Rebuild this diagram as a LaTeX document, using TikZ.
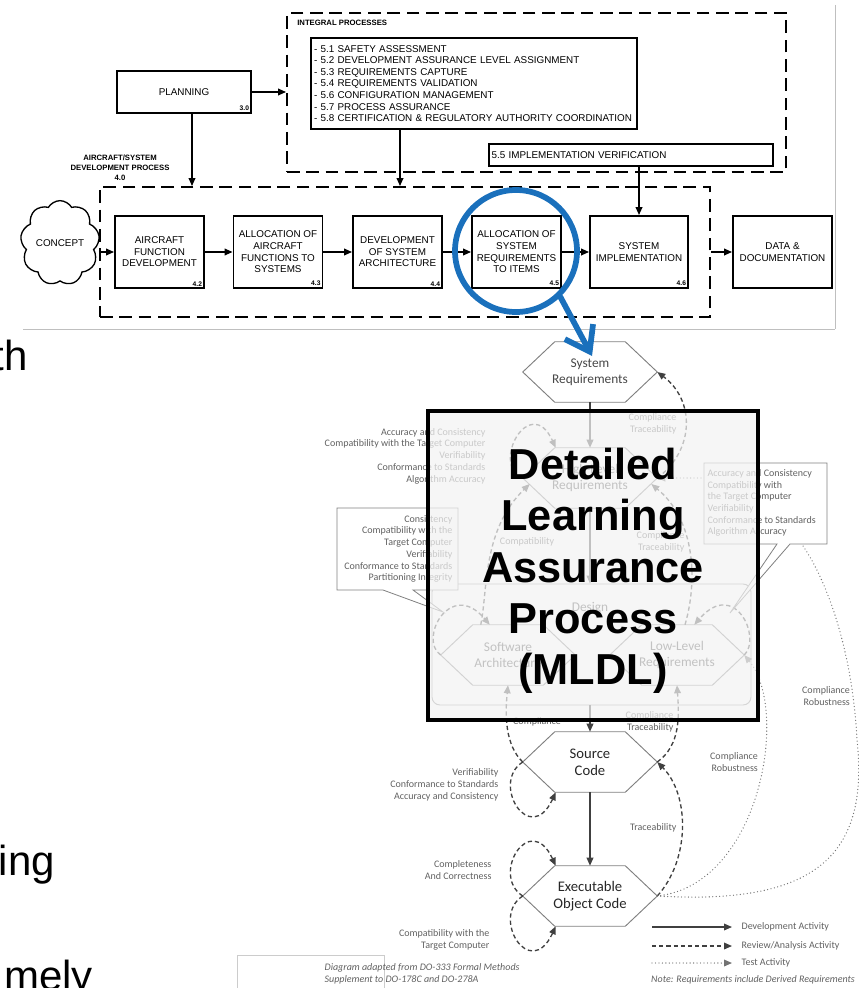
\documentclass[tikz,border=0pt]{standalone}
\usepackage{fontspec}
\setmainfont{Liberation Sans}
\newfontfamily\calfont{Carlito}
\usetikzlibrary{arrows.meta,shapes.symbols,calc}
\definecolor{magblue}{RGB}{26,112,188}
\newcommand\arpfont{\fontsize{7.4}{8.7}\selectfont}
\newcommand\arpsmall{\fontsize{5.8}{7.4}\selectfont\bfseries}
\tikzset{
  arpbox/.style={draw, line width=1.4pt, align=center, font=\arpfont, inner sep=1pt,
    minimum width=66.75pt, minimum height=54pt},
  arpdash/.style={draw, line width=1.4pt, dash pattern=on 9.5pt off 5pt, inner sep=0pt},
  arparrow/.style={line width=1.2pt, -{Triangle[length=6pt,width=5pt]}},
  arpnum/.style={font=\fontsize{5}{6}\selectfont\bfseries, anchor=south east, inner sep=2pt},
  hexa/.style={rectangle, minimum width=100.5pt, minimum height=45pt, inner sep=0pt,
    align=center, text=black!72, font=\calfont\fontsize{10}{12}\selectfont},
  hexbold/.style={text=black!85, font=\calfont\fontsize{11}{12.8}\selectfont},
  hexline/.style={draw=black!50, line width=0.7pt},
  devarrow/.style={draw=black!75, line width=1pt, -{Triangle[length=6pt,width=5pt]}},
  revarrow/.style={devarrow, dash pattern=on 3.2pt off 2.2pt},
  testarrow/.style={draw=black!55, line width=1pt, line cap=round, dash pattern=on 0pt off 2.6pt,
    -{Triangle[length=6pt,width=5pt]}},
  lbl/.style={font=\calfont\fontsize{7.5}{8.8}\selectfont, text=black!62, inner sep=1pt},
  callout/.style={draw=black!50, fill=white, line width=0.6pt},
}
\begin{document}
\begin{tikzpicture}[x=0.75pt,y=-0.75pt]
\useasboundingbox (0,0) rectangle (859,988);

% pasted ARP4754A figure
\draw[black!25, line width=0.6pt] (23,329) -- (835,329) (835,5) -- (835,329);
\node[arpdash, minimum width=374.25pt, minimum height=119.25pt] (integral) at (536.5,92.5) {};
\node[arpdash, minimum width=457.5pt, minimum height=97.5pt] (devproc) at (405,252) {};
\node[anchor=west, font=\arpsmall, inner sep=0pt] (intlbl) at (297,23) {INTEGRAL PROCESSES};
\node[align=center, font=\arpsmall] (devlbl) at (120,168) {AIRCRAFT/SYSTEM\\DEVELOPMENT PROCESS\\4.0};

\node[arpbox, minimum width=100.5pt, minimum height=31.5pt] (planning) at (184,92) {PLANNING};
\node[arpnum] at (planning.south east) {3.0};
\node[draw, line width=1.4pt, font=\arpfont, align=left, text width=240pt, inner sep=2pt,
  minimum height=68.25pt] (intlist) at (474,83.5)
  {- 5.1 SAFETY ASSESSMENT\\
   - 5.2 DEVELOPMENT ASSURANCE LEVEL ASSIGNMENT\\
   - 5.3 REQUIREMENTS CAPTURE\\
   - 5.4 REQUIREMENTS VALIDATION\\
   - 5.6 CONFIGURATION MANAGEMENT\\
   - 5.7 PROCESS ASSURANCE\\
   - 5.8 CERTIFICATION \& REGULATORY AUTHORITY COORDINATION};
\node[draw, line width=1.4pt, font=\arpfont, anchor=west, text width=209pt, inner sep=2pt,
  minimum height=16.5pt] (implver) at (488,155) {5.5 IMPLEMENTATION VERIFICATION};

\node[cloud, draw, line width=1pt, cloud puffs=9, cloud puff arc=120, aspect=0.9,
  minimum width=49.5pt, minimum height=56pt, font=\arpfont, inner sep=0pt] (concept) at (60,243) {CONCEPT};
\node[arpbox] (afd) at (159.5,252) {AIRCRAFT\\FUNCTION\\DEVELOPMENT};
\node[arpbox] (aafs) at (278,252) {ALLOCATION OF\\AIRCRAFT\\FUNCTIONS TO\\SYSTEMS};
\node[arpbox] (dsa) at (397.5,252) {DEVELOPMENT\\OF SYSTEM\\ARCHITECTURE};
\node[arpbox] (asri) at (516.5,252) {ALLOCATION OF\\SYSTEM\\REQUIREMENTS\\TO ITEMS};
\node[arpbox, minimum width=73.5pt] (sysimpl) at (639,252) {SYSTEM\\IMPLEMENTATION};
\node[arpbox, minimum width=74.25pt] (datadoc) at (782.5,252) {DATA \&\\DOCUMENTATION};
\node[arpnum] at (afd.south east) {4.2};
\node[arpnum] at (aafs.south east) {4.3};
\node[arpnum] at (dsa.south east) {4.4};
\node[arpnum] at (asri.south east) {4.5};
\node[arpnum] at (sysimpl.south east) {4.6};

\draw[arparrow] (planning.east) -- (planning.east -| integral.west);
\draw[arparrow] ([xshift=6pt]planning.south) -- ([xshift=6pt]planning.south |- devproc.north);
\draw[arparrow] ([xshift=-55.5pt]intlist.south) -- ([xshift=-55.5pt]intlist.south |- devproc.north);
\draw[arparrow] (implver.south -| sysimpl) -- (sysimpl.north);
\draw[arparrow] (concept.east |- afd) -- (afd);
\draw[arparrow] (afd) -- (aafs);
\draw[arparrow] (aafs) -- (dsa);
\draw[arparrow] (dsa) -- (asri);
\draw[arparrow] (asri) -- (sysimpl);
\draw[arparrow] (devproc.east |- datadoc) -- (datadoc);

% DO-178C life cycle
\node[draw=black!45, line width=0.7pt, rounded corners=6pt, minimum width=239.25pt,
  minimum height=90.75pt] (design) at (591.5,644.5) {};
\node[hexa] (designlbl) at (590,608) {Design};
\node[hexa] (sysreq) at (590,372) {System\\Requirements};
\node[hexa] (hlr) at (590,478) {High-Level\\Requirements};
\node[hexa] (sa) at (508,655) {Software\\Architecture};
\node[hexa] (llr) at (677,655) {Low-Level\\Requirements};
\node[hexa, hexbold] (src) at (590,762) {Source\\Code};
\node[hexa, hexbold] (eoc) at (590,896) {Executable\\Object Code};
\foreach \n in {sysreq,hlr,sa,llr,src,eoc}
  \draw[hexline] (\n.west) -- ($(\n.north west)+(32,0)$) -- ($(\n.north east)+(-32,0)$)
    -- (\n.east) -- ($(\n.south east)+(-32,0)$) -- ($(\n.south west)+(32,0)$) -- cycle;

\draw[devarrow] (sysreq) -- (hlr);
\draw[devarrow] (hlr.south) -- (hlr.south |- design.north);
\draw[devarrow] (design.south -| src) -- (src.north);
\draw[devarrow] (src) -- (eoc);

\draw[revarrow] (hlr.east) .. controls (695,450) and (695,400) .. (sysreq.east);
\draw[revarrow] (hlr.west) .. controls (490,465) and (530,392) .. ($(hlr.north west)+(33,0)$);
\draw[revarrow] ($(sa.north west)+(40,0)$) .. controls (488,590) and (482,530) .. ($(hlr.west)+(7,6)$);
\draw[revarrow] ($(llr.north)+(8,0)$) .. controls (698,580) and (695,520) .. ($(hlr.east)+(-6,6)$);
\draw[revarrow] (sa.west) .. controls (418,640) and (450,578) .. ($(sa.north west)+(49,0)$);
\draw[revarrow] (llr.east) .. controls (762,638) and (735,578) .. ($(llr.north east)+(-50,0)$);
\draw[revarrow] (src.east) .. controls (681,745) and (679,715) .. (llr.south);
\draw[revarrow] (src.west) .. controls (505,745) and (505,715) .. (sa.south);
\draw[revarrow] (src.west) .. controls (490,783) and (530,848) .. ($(src.south west)+(33,0)$);
\draw[revarrow] (eoc.west) .. controls (490,875) and (530,810) .. ($(eoc.north west)+(33,0)$);
\draw[revarrow] (eoc.west) .. controls (490,917) and (530,982) .. ($(eoc.south west)+(33,0)$);
\draw[revarrow] (eoc.east) .. controls (690,860) and (690,795) .. (src.east);

\draw[testarrow] (eoc.east) .. controls (760,885) and (790,710) .. (llr.east);
\draw[testarrow] (eoc.east) .. controls (810,905) and (870,860) .. (857,740)
  .. controls (852,640) and (820,560) .. (790,530) .. controls (760,495) and (740,478) .. (705,478)
  -- (hlr.east);

\node[lbl, align=right, anchor=east] (l1) at (678,424) {Compliance\\Traceability};
\node[lbl, align=right, anchor=east] (l2) at (487,456) {Accuracy and Consistency\\Compatibility with the Target Computer\\Verifiability\\Conformance to Standards\\Algorithm Accuracy};
\node[lbl] (l3) at (527,542) {Compatibility};
\node[lbl, align=right, anchor=east] (l4) at (686,542) {Compliance\\Traceability};
\node[lbl, align=right, anchor=east] (l5) at (675,722) {Compliance\\Traceability};
\node[lbl] (l6) at (537,722) {Compliance};
\node[lbl, align=right, anchor=east] (l7) at (500,785) {Verifiability\\Conformance to Standards\\Accuracy and Consistency};
\node[lbl, align=right, anchor=east] (l8) at (678,828) {Traceability};
\node[lbl, align=right, anchor=east] (l9) at (493,870) {Completeness\\And Correctness};
\node[lbl, align=right, anchor=east] (l10) at (491,940) {Compatibility with the\\Target Computer};
\node[lbl, align=right] (l11) at (826,696) {Compliance\\Robustness};
\node[lbl, align=right] (l12) at (734,762) {Compliance\\Robustness};

\draw[callout] (337,508) -- (458,508) -- (458,590) -- (413,590) -- (443,612) -- (383,590) -- (337,590) -- cycle;
\node[lbl, align=right, anchor=east] (leftnote) at (454,549) {Consistency\\Compatibility with the\\Target Computer\\Verifiability\\Conformance to Standards\\Partitioning Integrity};
\draw[callout] (704,463) -- (827,463) -- (827,544) -- (790,544) -- (730,613) -- (777,544) -- (704,544) -- cycle;
\node[lbl, align=left, anchor=west] (rightnote) at (706,503) {Accuracy and Consistency\\Compatibility with\\the Target Computer\\Verifiability\\Conformance to Standards\\Algorithm Accuracy};

% legend
\coordinate (lgdevs) at (652,927);
\coordinate (lgrevs) at (652,946);
\coordinate (lgtests) at (652,963);
\node[lbl, anchor=west, inner xsep=7pt] (lgdev) at (732,927) {Development Activity};
\node[lbl, anchor=west, inner xsep=7pt] (lgrev) at (732,946) {Review/Analysis Activity};
\node[lbl, anchor=west, inner xsep=7pt] (lgtest) at (732,963) {Test Activity};
\draw[devarrow] (lgdevs) -- (lgdev.west);
\draw[revarrow] (lgrevs) -- (lgrev.west);
\draw[testarrow] (lgtests) -- (lgtest.west);
\node[lbl, font=\calfont\itshape\fontsize{7.5}{8.8}\selectfont] (note) at (753,980) {Note: Requirements include Derived Requirements};
\draw[black!20, line width=0.6pt] (237,990) -- (237,955) -- (384,955) -- (384,990);
\node[lbl, align=left, anchor=west, font=\calfont\itshape\fontsize{7.5}{8.8}\selectfont] (source) at (323,974)
  {Diagram adapted from DO-333 Formal Methods\\Supplement to DO-178C and DO-278A};

% overlay box
\node[draw, line width=3pt, fill=black!5, fill opacity=0.72, minimum width=247.5pt,
  minimum height=231.75pt, inner sep=0pt] (mldlbox) at (593,565.5) {};
\node[align=center, font=\fontsize{32.5}{38.5}\selectfont\bfseries] (mldl) at (593,571)
  {Detailed\\Learning\\Assurance\\Process\\(MLDL)};

% magnifier
\node[circle, draw=magblue, line width=4.3pt, minimum size=91.5pt, inner sep=0pt] (lens) at (516,251) {};
\coordinate (magtip) at (592,356);
\draw[magblue, line width=4.3pt, line cap=round, -{Straight Barb[length=17pt,width=24pt]}] (lens.-46) -- (magtip);

% slide text behind
\node[anchor=base east, font=\fontsize{31.5}{36}\selectfont, inner sep=0pt] (frag1) at (28,370) {th};
\node[anchor=base east, font=\fontsize{31.5}{36}\selectfont, inner sep=0pt] (frag2) at (55,875) {ing};
\node[anchor=base east, font=\fontsize{31.5}{36}\selectfont, inner sep=0pt] (frag3) at (93,990) {mely};
\end{tikzpicture}
\end{document}
